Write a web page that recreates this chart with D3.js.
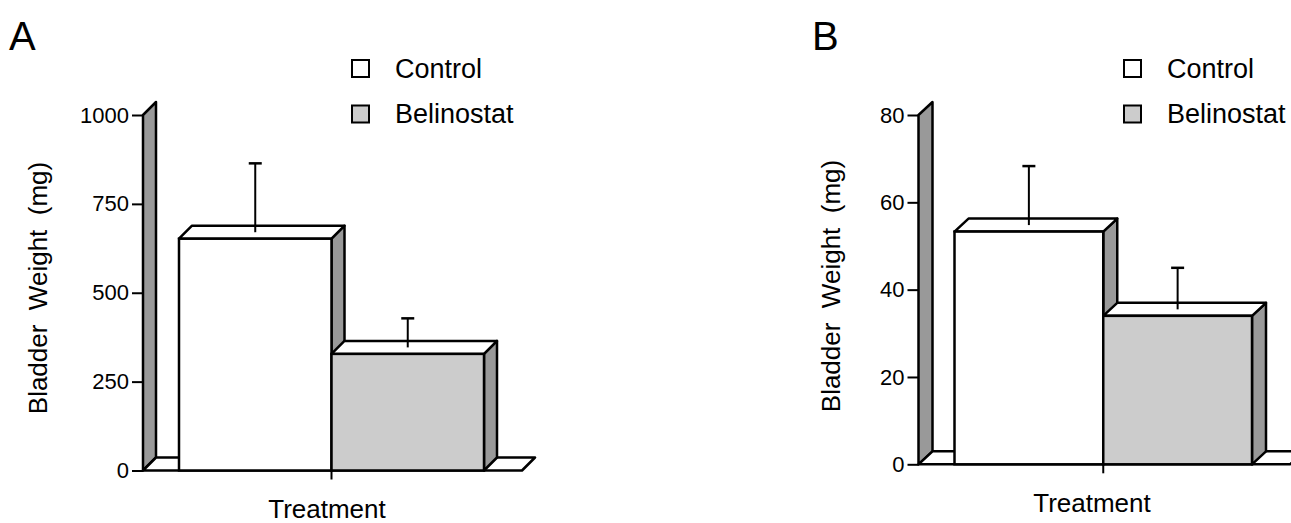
<!DOCTYPE html>
<html><head><meta charset="utf-8">
<script src="https://cdn.jsdelivr.net/npm/d3@7"></script>
<style>
html,body{margin:0;padding:0;background:#fff;}
svg text{font-family:"Liberation Sans",Arial,Helvetica,sans-serif;fill:#000;white-space:pre;}
</style></head>
<body>
<svg id="chart" width="1291" height="523"></svg>
<script>
// ---- data ----
const categories = ["Control", "Belinostat"];
const panelLabels = ["A", "B"];
const valuesA = [652, 328];
const errorsA = [212, 100];
const valuesB = [53.3, 34.0];
const errorsB = [15.0, 11.0];
const ticksA = [0, 250, 500, 750, 1000];
const ticksB = [0, 20, 40, 60, 80];
const yTitle = "Bladder  Weight  (mg)";
const xTitle = "Treatment";
const fills = ["#ffffff", "#cccccc"];

const svg = d3.select("#chart");
const SIDE = "#999999";

function panel(cfg) {
  const g = svg.append("g");
  const x = d3.scaleBand().domain(categories).range(cfg.xr).padding(0);
  const y = d3.scaleLinear().domain([0, cfg.max]).range(cfg.yr);
  const dx = cfg.dx, dy = cfg.dy;
  const y0 = y(0), yTop = y(cfg.max);
  const ax = cfg.xr[0] - 36;
  const floorEnd = cfg.xr[1] + 38;
  const sw = 2.5;

  // wall
  g.append("path").attr("d", `M${ax},${y0}L${ax},${yTop}L${ax+dx},${yTop-dy}L${ax+dx},${y0-dy}Z`)
    .attr("fill", SIDE).attr("stroke", "#000").attr("stroke-width", sw).attr("stroke-linejoin", "round");
  // floor
  g.append("path").attr("d", `M${ax},${y0}L${floorEnd},${y0}L${floorEnd+dx},${y0-dy}L${ax+dx},${y0-dy}Z`)
    .attr("fill", "#fff").attr("stroke", "#000").attr("stroke-width", sw).attr("stroke-linejoin", "round");

  // y axis ticks & labels
  const yAxis = d3.axisLeft(y).tickValues(cfg.ticks).tickSize(11).tickPadding(3).tickFormat(d3.format("d"));
  const ag = g.append("g").attr("transform", `translate(${ax},0)`).call(yAxis);
  ag.select(".domain").remove();
  ag.selectAll(".tick line").attr("stroke", "#000").attr("stroke-width", 2);
  ag.selectAll(".tick text").attr("font-size", 22).attr("font-family", '"Liberation Sans",Arial,sans-serif').attr("fill", "#000");

  // bars
  categories.forEach((c, i) => {
    const v = cfg.values[i];
    const xl = x(c), xr = x(c) + x.bandwidth(), yt = y(v);
    const bg = g.append("g");
    bg.append("path").attr("d", `M${xr},${yt}L${xr+dx},${yt-dy}L${xr+dx},${y0-dy}L${xr},${y0}Z`)
      .attr("fill", SIDE).attr("stroke", "#000").attr("stroke-width", sw).attr("stroke-linejoin", "round");
    bg.append("path").attr("d", `M${xl},${yt}L${xl+dx},${yt-dy}L${xr+dx},${yt-dy}L${xr},${yt}Z`)
      .attr("fill", "#fff").attr("stroke", "#000").attr("stroke-width", sw).attr("stroke-linejoin", "round");
    bg.append("rect").attr("x", xl).attr("y", yt).attr("width", x.bandwidth()).attr("height", y0 - yt)
      .attr("fill", fills[i]).attr("stroke", "#000").attr("stroke-width", sw);
    // error bar
    const cx = xl + x.bandwidth() / 2;
    const ye = y(v + cfg.errors[i]);
    bg.append("line").attr("x1", cx).attr("x2", cx).attr("y1", yt - dy / 2).attr("y2", ye)
      .attr("stroke", "#000").attr("stroke-width", 2);
    bg.append("line").attr("x1", cx - 6.5).attr("x2", cx + 6.5).attr("y1", ye).attr("y2", ye)
      .attr("stroke", "#000").attr("stroke-width", 2.5);
  });

  // center tick on x axis
  const mid = x(categories[1]);
  g.append("line").attr("x1", mid).attr("x2", mid).attr("y1", y0).attr("y2", y0 + 9)
    .attr("stroke", "#000").attr("stroke-width", 2);

  // titles
  g.append("text").attr("x", cfg.xTitleX).attr("y", cfg.xTitleY)
    .attr("text-anchor", "middle").attr("font-size", 26).text(xTitle);
  g.append("text").attr("transform", `translate(${cfg.yTitleX},${cfg.yTitleY}) rotate(-90)`)
    .attr("text-anchor", "middle").attr("font-size", 26).text(yTitle);
  g.append("text").attr("x", cfg.labelX).attr("y", 50).attr("font-size", 40).text(cfg.label);

  // legend
  categories.forEach((c, i) => {
    const ly = 68.5 + i * 45.5;
    g.append("rect").attr("x", cfg.legX).attr("y", ly - 8.5).attr("width", 17).attr("height", 17)
      .attr("fill", fills[i]).attr("stroke", "#000").attr("stroke-width", 2);
    g.append("text").attr("x", cfg.legX + 43).attr("y", ly + 9).attr("font-size", 27).text(c);
  });
}

panel({ label: panelLabels[0], labelX: 9, values: valuesA, errors: errorsA, ticks: ticksA, max: 1000,
  xr: [179, 484], yr: [470.5, 115], dx: 13, dy: 13, xTitleX: 327, xTitleY: 518, yTitleX: 47, yTitleY: 288, legX: 352 });
panel({ label: panelLabels[1], labelX: 812, values: valuesB, errors: errorsB, ticks: ticksB, max: 80,
  xr: [954.5, 1252], yr: [464.3, 115], dx: 14, dy: 13, xTitleX: 1092, xTitleY: 512, yTitleX: 840, yTitleY: 286, legX: 1124 });
</script>
</body></html>
